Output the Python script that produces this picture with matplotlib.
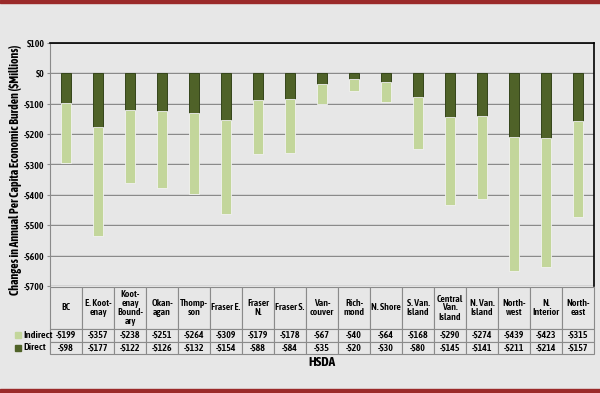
import matplotlib.pyplot as plt
import matplotlib.transforms as mtransforms
import numpy as np
from matplotlib.patches import Rectangle

# Data
categories = ['BC', 'E. Koot-\nenay', 'Koot-\nenay\nBound-\nary', 'Okan-\nagan', 'Thomp-\nson',
              'Fraser E.', 'Fraser\nN.', 'Fraser S.', 'Van-\ncouver', 'Rich-\nmond', 'N. Shore',
              'S. Van.\nIsland', 'Central\nVan.\nIsland', 'N. Van.\nIsland', 'North-\nwest',
              'N.\nInterior', 'North-\neast']
indirect = [-199, -357, -238, -251, -264, -309, -179, -178, -67, -40, -64, -168, -290, -274, -439, -423, -315]
direct = [-98, -177, -122, -126, -132, -154, -88, -84, -35, -20, -30, -80, -145, -141, -211, -214, -157]
series_names = ['Indirect', 'Direct']
y_ticks = [100, 0, -100, -200, -300, -400, -500, -600, -700]

# Style
bg = '#e7e7e7'
c_indirect = '#c3d69b'
c_direct = '#4f6228'
grid_c = '#8a8a8a'
plt.rcParams['font.family'] = ['Asap Condensed', 'DejaVu Sans']

ax_w, ax_h = 544, 243.3  # axes size in px
fig = plt.figure(figsize=(6, 3.93), dpi=100, facecolor=bg)
ax = fig.add_axes([50 / 600, 1 - 286 / 393, ax_w / 600, ax_h / 393])
ax.set_facecolor(bg)

# Red frame lines top & bottom
fig.patches.append(Rectangle((0, 1 - 3 / 393), 1, 3 / 393, transform=fig.transFigure, color='#9b2a2a'))
fig.patches.append(Rectangle((0, 0), 1, 4 / 393, transform=fig.transFigure, color='#9b2a2a'))

x = np.arange(len(categories))
ax.bar(x, direct, width=0.34, color=c_direct, edgecolor='#34451a', linewidth=0.7, zorder=3)
ax.bar(x, indirect, width=0.34, bottom=direct, color=c_indirect, edgecolor='#f2f2f2', linewidth=0.6, zorder=3)

ax.set_xlim(-0.5, len(categories) - 0.5)
ax.set_ylim(-700, 100)
ax.set_yticks(y_ticks)
ax.set_yticklabels([f'\\${v}' if v >= 0 else f'-\\${-v}' for v in y_ticks], fontsize=7, fontweight=600)
ax.set_xticks([])
ax.tick_params(axis='y', length=2, color=grid_c, pad=2)

# gridlines: gray line with a white highlight just below
shift = mtransforms.ScaledTranslation(0, -1 / 100, fig.dpi_scale_trans)
for v in y_ticks:
    ax.axhline(v, color=grid_c, linewidth=1.0, zorder=1.1)
    ax.plot([0, 1], [v, v], color='white', linewidth=0.8, zorder=1,
            transform=ax.get_yaxis_transform() + shift)

for side in ['top', 'right']:
    ax.spines[side].set_color('black')
    ax.spines[side].set_linewidth(1.2)
ax.spines['left'].set_color(grid_c)
ax.spines['bottom'].set_visible(False)

# Table under the chart, cell sizes in axes fractions
head_h, row_h = 42 / ax_h, 12.65 / ax_h
tab_h = head_h + 2 * row_h
lab_w = 37 / ax_w
col_w = 1 / len(categories)
cell_text = [[f'-${-v}' for v in indirect], [f'-${-v}' for v in direct]]
tbl = ax.table(cellText=cell_text, rowLabels=['', ''], colLabels=categories,
               cellLoc='center', colLoc='center',
               bbox=[0, -tab_h - 1 / ax_h, 1, tab_h])
tbl.auto_set_font_size(False)
tbl.set_fontsize(7)
for (r, c), cell in tbl.get_celld().items():
    cell.set_facecolor(bg)
    cell.set_edgecolor(grid_c)
    cell.set_linewidth(0.8)
    cell.set_height(head_h if r == 0 else row_h)
    cell.set_width(lab_w if c == -1 else col_w)
    cell.get_text().set_linespacing(1.0)
    cell.get_text().set_fontweight(600)

# legend swatches and names in the row label cells
for i, (name, col) in enumerate(zip(series_names, [c_indirect, c_direct])):
    yc = -(1 / ax_h) - head_h - (i + 0.5) * row_h
    ax.add_patch(Rectangle((-lab_w + 2 / ax_w, yc - 3 / ax_h), 6 / ax_w, 6 / ax_h,
                           transform=ax.transAxes, color=col, clip_on=False, zorder=5))
    ax.text(-lab_w + 10 / ax_w, yc, name, transform=ax.transAxes, ha='left', va='center',
            fontsize=7.5, fontweight=600, zorder=5)

ax.text(0.5, -(363 - 286) / ax_h, 'HSDA', transform=ax.transAxes, ha='center', va='center',
        fontsize=9.5, fontweight='bold')
fig.text(0.026, 1 - 170 / 393, 'Changes in Annual Per Capita Economic Burden (\\$Millions)',
         rotation=90, ha='center', va='center', fontsize=8.5, fontweight='bold')

plt.savefig('out.png', dpi=100, facecolor=bg)
